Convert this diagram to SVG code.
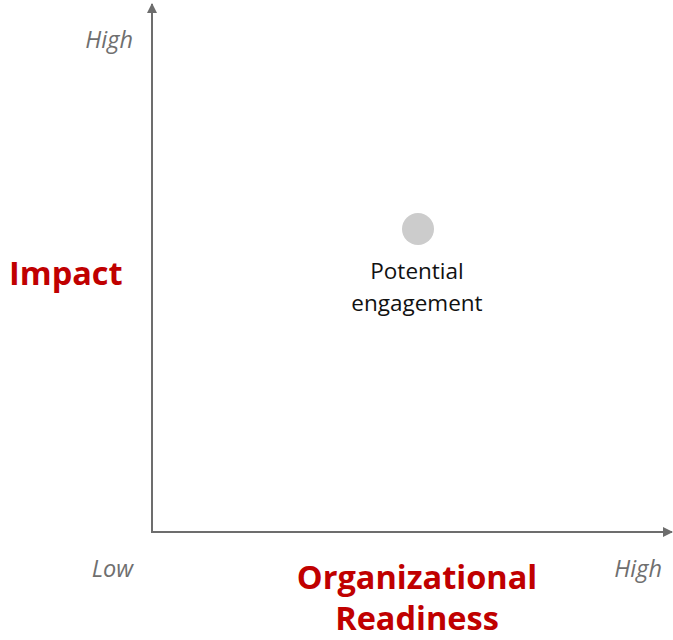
<svg xmlns="http://www.w3.org/2000/svg" width="673" height="640" viewBox="0 0 673 640">
<style>
.axis{stroke:#6d6d6d;stroke-width:2;fill:none}
.tick{font-family:"Open Sans","Liberation Sans",sans-serif;font-style:italic;font-size:23.5px;fill:#6f6f6f}
.title{font-family:"Open Sans","Liberation Sans",sans-serif;font-weight:bold;font-size:32.5px;fill:#c00000}
.lbl{font-family:"Open Sans","Liberation Sans",sans-serif;font-size:22.5px;fill:#111}
</style>
<defs>
<marker id="arr" viewBox="0 0 10 10" refX="9" refY="5" markerWidth="5" markerHeight="5" orient="auto" markerUnits="strokeWidth">
<path d="M0,0 L10,5 L0,10 Z" fill="#6d6d6d"/>
</marker>
</defs>
<rect width="673" height="640" fill="#fff"/>
<g id="connectors">
<line class="axis" x1="152" y1="533" x2="152" y2="4" marker-end="url(#arr)"/>
<line class="axis" x1="151" y1="532" x2="672" y2="532" marker-end="url(#arr)"/>
</g>
<g id="labels">
<text class="tick" x="133" y="48" text-anchor="end">High</text>
<text class="tick" x="133" y="577" text-anchor="end">Low</text>
<text class="tick" x="662" y="577" text-anchor="end">High</text>
<text class="title" x="9" y="285">Impact</text>
<text class="title" x="417" y="589" text-anchor="middle">Organizational</text>
<text class="title" x="417" y="630" text-anchor="middle">Readiness</text>
</g>
<g id="node-potential">
<circle cx="418" cy="229" r="16" fill="#cccccc"/>
<text class="lbl" x="417" y="279" text-anchor="middle">Potential</text>
<text class="lbl" x="417" y="311" text-anchor="middle">engagement</text>
</g>
</svg>
